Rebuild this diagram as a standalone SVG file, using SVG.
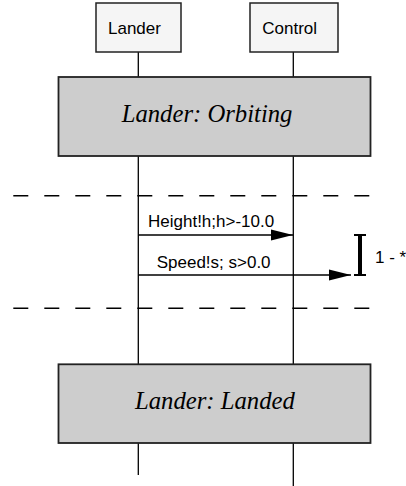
<svg xmlns="http://www.w3.org/2000/svg" width="406" height="486" viewBox="0 0 406 486">
<defs>
<style>
.obj{fill:#f5f5f5;stroke:#222;stroke-width:1.5}
.state{fill:#cdcdcd;stroke:#222;stroke-width:1.8}
.life{stroke:#000;stroke-width:1.3;fill:none}
.dash{stroke:#000;stroke-width:1.4;stroke-dasharray:15 16;fill:none}
.msg{stroke:#000;stroke-width:1.3;fill:none}
.lbl{font-family:"Liberation Sans",Arial,sans-serif;font-size:17px;fill:#000}
.st{font-family:"Liberation Serif","Times New Roman",serif;font-style:italic;font-size:24.7px;fill:#000}
</style>
<marker id="ah" markerWidth="22" markerHeight="12" refX="22" refY="6" orient="auto" markerUnits="userSpaceOnUse">
<path d="M0,0.5 L22,6 L0,11.5 Z" fill="#000"/>
</marker>
</defs>
<g id="lifelines">
<line class="life" x1="138.3" y1="52" x2="138.3" y2="77"/>
<line class="life" x1="293.3" y1="52" x2="293.3" y2="77"/>
<line class="life" x1="138.3" y1="156" x2="138.3" y2="364"/>
<line class="life" x1="293.3" y1="156" x2="293.3" y2="364"/>
<line class="life" x1="138.3" y1="443" x2="138.3" y2="475"/>
<line class="life" x1="293.3" y1="443" x2="293.3" y2="486"/>
</g>
<g id="dashes">
<line class="dash" x1="13.3" y1="195.7" x2="370" y2="195.7"/>
<line class="dash" x1="13.3" y1="308.3" x2="370" y2="308.3"/>
</g>
<g id="node-lander">
<rect class="obj" x="96" y="3" width="85" height="49"/>
<text class="lbl" x="108" y="34.3">Lander</text>
</g>
<g id="node-control">
<rect class="obj" x="250" y="3" width="88" height="49"/>
<text class="lbl" x="262.3" y="34.3">Control</text>
</g>
<g id="node-orbiting">
<rect class="state" x="58.5" y="77" width="312" height="79"/>
<text class="st" x="121.7" y="122">Lander: Orbiting</text>
</g>
<g id="node-landed">
<rect class="state" x="58.5" y="364.3" width="312" height="78.7"/>
<text class="st" x="135" y="409.3">Lander: Landed</text>
</g>
<g id="connectors">
<line class="msg" x1="138.3" y1="235" x2="293" y2="235" marker-end="url(#ah)"/>
<text class="lbl" x="148" y="227.3">Height!h;h&gt;-10.0</text>
<line class="msg" x1="138.3" y1="275" x2="351" y2="275" marker-end="url(#ah)"/>
<text class="lbl" x="156.7" y="268.3" font-size="16.5">Speed!s; s&gt;0.0</text>
</g>
<g id="repeat">
<line x1="360" y1="235" x2="360" y2="275" stroke="#000" stroke-width="4"/>
<line x1="354" y1="235" x2="366" y2="235" stroke="#000" stroke-width="2"/>
<line x1="354" y1="275" x2="366" y2="275" stroke="#000" stroke-width="2"/>
<text class="lbl" x="375" y="263.3" font-size="14.5">1 - *</text>
</g>
</svg>
